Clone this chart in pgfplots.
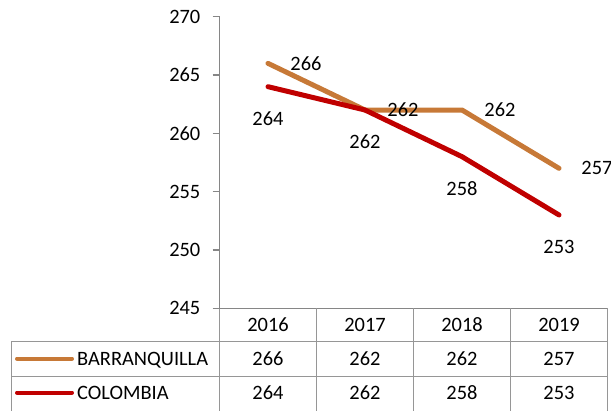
\documentclass[border=0pt]{standalone}
\usepackage{fontspec}
\setmainfont{Carlito}
\usepackage{pgfplots}
\pgfplotsset{compat=1.18}
\definecolor{barr}{RGB}{199,121,55}
\definecolor{colo}{RGB}{192,0,0}
\definecolor{axgray}{RGB}{134,134,134}
\definecolor{tabgray}{RGB}{150,150,150}
\newcommand{\cf}{\fontsize{20.5}{24}\selectfont}
\begin{document}
\begin{tikzpicture}[x=1bp,y=1bp,font=\cf]
\useasboundingbox (0,0) rectangle (611,410);
\begin{axis}[
  at={(219.5bp,101.7bp)}, anchor=south west,
  scale only axis, width=388bp, height=291.6bp,
  xmin=-0.5, xmax=3.5, ymin=245, ymax=270,
  axis lines*=left,
  xtick=\empty, ytick={245,250,...,270},
  tick align=outside, major tick length=7bp,
  axis line style={axgray, line width=1.5bp},
  y tick style={axgray, line width=1.5bp},
  yticklabel style={font=\cf, text=black, anchor=east, inner sep=0pt, xshift=-12bp},
  /pgf/number format/assume math mode=true,
  clip=false,
]
\addplot[barr, line width=5bp, line cap=round, line join=round, mark=none,
  nodes near coords,
  nodes near coords style={anchor=center, xshift=38bp, text=black, font=\cf}]
  coordinates {(0,266) (1,262) (2,262) (3,257)};
\addplot[colo, line width=5bp, line cap=round, line join=round, mark=none,
  nodes near coords,
  nodes near coords style={anchor=center, yshift=-32bp, text=black, font=\cf}]
  coordinates {(0,264) (1,262) (2,258) (3,253)};
\end{axis}
% data table
\draw[tabgray, line width=1.5bp] (11.3,68.5) -- (607.5,68.5);
\draw[tabgray, line width=1.5bp] (11.3,33.3) -- (607.5,33.3);
\draw[tabgray, line width=1.5bp] (11.3,68.5) -- (11.3,-5);
\draw[tabgray, line width=1.5bp] (219.5,101) -- (219.5,-5);
\foreach \xx in {316.5,413.5,510.5,607.5} {
  \draw[tabgray, line width=1.5bp] (\xx,101.7) -- (\xx,-5);
}
\foreach \yr [count=\i from 0] in {2016,2017,2018,2019} {
  \node[anchor=base] at (268+97*\i,78.3) {\yr};
}
\foreach \v [count=\i from 0] in {266,262,262,257} {
  \node[anchor=base] at (268+97*\i,45) {\v};
}
\foreach \v [count=\i from 0] in {264,262,258,253} {
  \node[anchor=base] at (268+97*\i,10.7) {\v};
}
\draw[barr, line width=4bp, line cap=round] (17,51.5) -- (72,51.5);
\draw[colo, line width=4bp, line cap=round] (17,17.5) -- (72,17.5);
\node[anchor=base west, inner sep=0pt] at (77,45) {BARRANQUILLA};
\node[anchor=base west, inner sep=0pt] at (77,10.7) {COLOMBIA};
\end{tikzpicture}
\end{document}
